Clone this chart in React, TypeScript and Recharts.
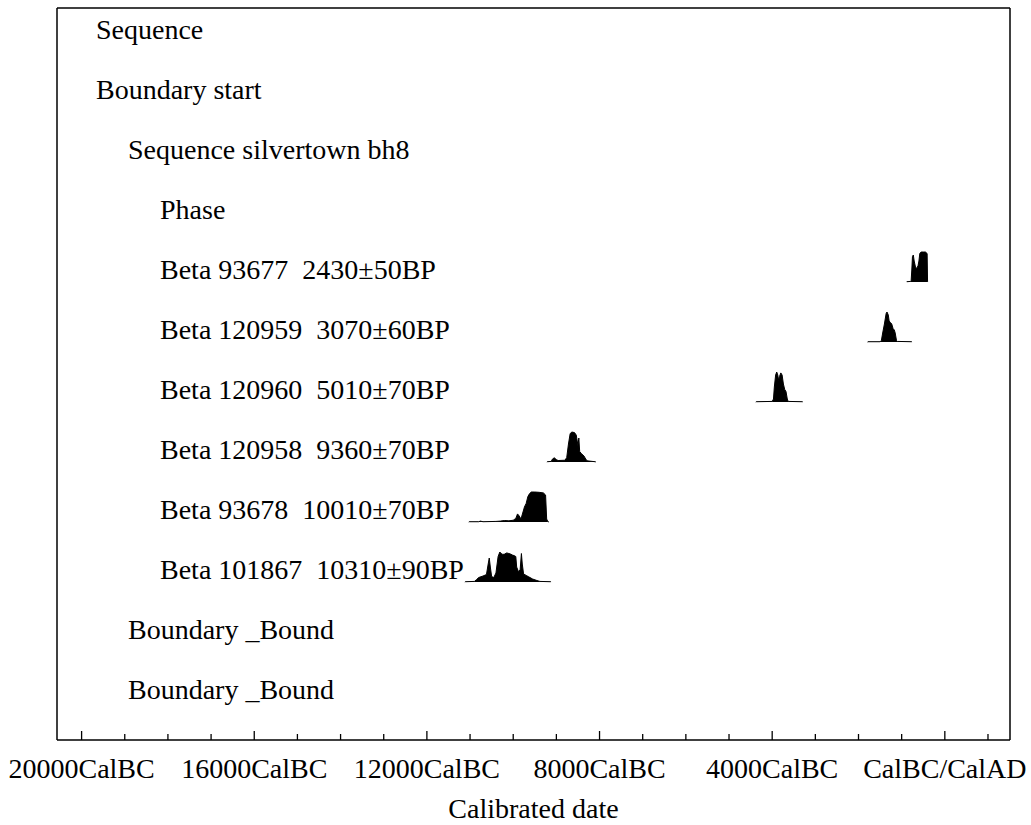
import React from 'react'
import { ComposedChart, Area, XAxis, YAxis } from 'recharts'

// rows of the OxCal plot, top to bottom
const ROW_LABELS = [
  'Sequence',
  'Boundary start',
  'Sequence silvertown bh8',
  'Phase',
  'Beta 93677  2430±50BP',
  'Beta 120959  3070±60BP',
  'Beta 120960  5010±70BP',
  'Beta 120958  9360±70BP',
  'Beta 93678  10010±70BP',
  'Beta 101867  10310±90BP',
  'Boundary _Bound',
  'Boundary _Bound',
]
const ROW_INDENT = [0, 0, 1, 2, 2, 2, 2, 2, 2, 2, 1, 1]

// x axis ticks (years, negative = BC)
const MINOR_TICKS = [
  -20000, -19000, -18000, -17000, -16000, -15000, -14000, -13000, -12000, -11000,
  -10000, -9000, -8000, -7000, -6000, -5000, -4000, -3000, -2000, -1000, 0, 1000,
]
const MAJOR_TICKS = [-20000, -16000, -12000, -8000, -4000, 0]
const MAJOR_LABELS = ['20000CalBC', '16000CalBC', '12000CalBC', '8000CalBC', '4000CalBC', 'CalBC/CalAD']

// calibrated probability distributions: [year, relative probability]
const beta93677: [number, number][] = [
  [-885, 0], [-880, 0.01], [-800, 0.02], [-780, 0.05], [-765, 0.4], [-750, 0.85], [-730, 0.9],
  [-710, 0.7], [-680, 0.5], [-650, 0.45], [-620, 0.55], [-600, 0.7], [-580, 0.95], [-550, 1],
  [-500, 1], [-450, 1], [-410, 0.95], [-400, 0.02], [-395, 0],
]
const beta120959: [number, number][] = [
  [-1790, 0], [-1780, 0.01], [-1500, 0.01], [-1470, 0.05], [-1440, 0.3], [-1400, 0.6],
  [-1360, 0.95], [-1340, 1], [-1310, 0.9], [-1290, 0.7], [-1260, 0.65], [-1230, 0.6],
  [-1200, 0.45], [-1170, 0.4], [-1150, 0.3], [-1120, 0.05], [-1100, 0.02], [-770, 0.01], [-760, 0],
]
const beta120960: [number, number][] = [
  [-4380, 0], [-4370, 0.01], [-4000, 0.02], [-3970, 0.1], [-3950, 0.5], [-3920, 0.9],
  [-3895, 1], [-3870, 0.9], [-3850, 0.72], [-3830, 0.85], [-3800, 0.97], [-3770, 0.9],
  [-3740, 0.6], [-3710, 0.42], [-3680, 0.35], [-3650, 0.1], [-3630, 0.02], [-3300, 0.01], [-3290, 0],
]
const beta120958: [number, number][] = [
  [-9220, 0], [-9210, 0.01], [-9120, 0.02], [-9090, 0.1], [-9050, 0.14], [-9000, 0.08],
  [-8960, 0.05], [-8800, 0.06], [-8760, 0.15], [-8720, 0.6], [-8680, 0.95], [-8640, 1],
  [-8580, 0.98], [-8540, 0.9], [-8500, 0.55], [-8480, 0.8], [-8460, 0.35], [-8420, 0.28],
  [-8360, 0.2], [-8320, 0.1], [-8290, 0.04], [-8100, 0.01], [-8085, 0],
]
const beta93678: [number, number][] = [
  [-11030, 0], [-11020, 0.01], [-10800, 0.01], [-10760, 0.03], [-10700, 0.01], [-10400, 0.02],
  [-10300, 0.03], [-10200, 0.05], [-10100, 0.04], [-10000, 0.06], [-9940, 0.12], [-9900, 0.27],
  [-9860, 0.2], [-9820, 0.1], [-9780, 0.3], [-9740, 0.5], [-9700, 0.62], [-9660, 0.85],
  [-9620, 0.95], [-9580, 1], [-9500, 1], [-9400, 0.99], [-9300, 0.97], [-9250, 0.9],
  [-9225, 0.1], [-9200, 0.02], [-9175, 0],
]
const beta101867: [number, number][] = [
  [-11120, 0], [-11110, 0.01], [-10900, 0.02], [-10850, 0.08], [-10800, 0.15], [-10700, 0.2],
  [-10620, 0.25], [-10580, 0.6], [-10555, 0.8], [-10530, 0.5], [-10500, 0.18], [-10450, 0.15],
  [-10400, 0.3], [-10350, 0.85], [-10310, 1], [-10280, 0.95], [-10240, 0.92], [-10200, 0.93],
  [-10150, 0.97], [-10100, 0.95], [-10060, 0.93], [-10020, 0.9], [-9980, 0.88], [-9940, 0.85],
  [-9920, 0.5], [-9880, 0.35], [-9840, 0.4], [-9810, 0.95], [-9790, 0.6], [-9760, 0.27],
  [-9700, 0.22], [-9650, 0.18], [-9550, 0.1], [-9450, 0.05], [-9380, 0.02], [-9130, 0.01], [-9125, 0],
]

const DISTS = [
  { row: 4, points: beta93677 },
  { row: 5, points: beta120959 },
  { row: 6, points: beta120960 },
  { row: 7, points: beta120958 },
  { row: 8, points: beta93678 },
  { row: 9, points: beta101867 },
]

const FONT = '"Liberation Serif", "Times New Roman", serif'
const X_DOMAIN = [-20570, 1510]
// one y unit = one row (60px); plot area is 732px tall
const Y_TOP = 12.2
const rowBase = (k: number) => 11.633 - k
const PEAK = 0.5 // tallest peak is half a row

function RowTick(props: any) {
  const { x, y, index } = props
  return (
    <text
      x={x + 39 + ROW_INDENT[index] * 32}
      y={y - 3}
      fontFamily={FONT}
      fontSize={28}
      fill="#000"
      style={{ whiteSpace: 'pre' }}
    >
      {ROW_LABELS[index]}
    </text>
  )
}

function YearTick(props: any) {
  const { x, y, payload } = props
  const mi = MAJOR_TICKS.indexOf(payload.value)
  const major = mi >= 0
  return (
    <g>
      <line x1={x} x2={x} y1={y} y2={y - (major ? 9 : 6)} stroke="#000" strokeWidth={1.3} />
      {major && (
        <text x={x} y={y + 38} textAnchor="middle" fontFamily={FONT} fontSize={28} fill="#000">
          {MAJOR_LABELS[mi]}
        </text>
      )}
    </g>
  )
}

export default function App() {
  const rowTicks = ROW_LABELS.map((_, k) => rowBase(k))
  return (
    <div style={{ position: 'absolute', left: 0, top: 0 }}>
      <ComposedChart width={1031} height={825} margin={{ top: 7, right: 20, left: 56, bottom: 0 }}>
        <XAxis
          xAxisId={0}
          type="number"
          dataKey="x"
          domain={X_DOMAIN}
          allowDataOverflow
          ticks={MINOR_TICKS}
          interval={0}
          height={85}
          tickLine={false}
          tickSize={0}
          tickMargin={0}
          tick={<YearTick />}
          axisLine={{ stroke: '#000', strokeWidth: 1.5 }}
          label={{
            value: 'Calibrated date',
            position: 'insideBottom',
            offset: 7,
            fontFamily: FONT,
            fontSize: 28,
            fill: '#000',
          }}
        />
        <XAxis
          xAxisId="top"
          orientation="top"
          type="number"
          domain={X_DOMAIN}
          allowDataOverflow
          height={1}
          tick={false}
          tickLine={false}
          axisLine={{ stroke: '#000', strokeWidth: 1.5 }}
        />
        <YAxis
          yAxisId={0}
          type="number"
          domain={[0, Y_TOP]}
          allowDataOverflow
          ticks={rowTicks}
          interval={0}
          width={1}
          tickLine={false}
          tickSize={0}
          tickMargin={0}
          tick={<RowTick />}
          axisLine={{ stroke: '#000', strokeWidth: 1.5 }}
        />
        <YAxis
          yAxisId="right"
          orientation="right"
          type="number"
          domain={[0, 1]}
          width={1}
          tick={false}
          tickLine={false}
          axisLine={{ stroke: '#000', strokeWidth: 1.5 }}
        />
        {DISTS.map((d, i) => {
          const base = rowBase(d.row)
          const data = d.points.map(([x, p]) => ({ x, y: base + p * PEAK }))
          return (
            <Area
              key={i}
              data={data}
              dataKey="y"
              type="linear"
              baseValue={base}
              stroke="#000"
              strokeWidth={1}
              fill="#000"
              fillOpacity={1}
              dot={false}
              activeDot={false}
              isAnimationActive={false}
            />
          )
        })}
      </ComposedChart>
    </div>
  )
}
